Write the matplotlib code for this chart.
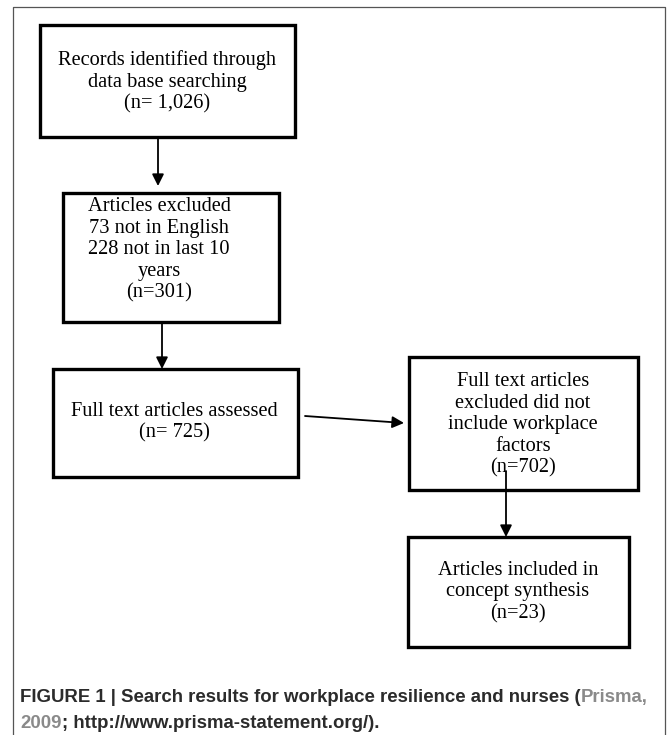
import matplotlib
matplotlib.use("Agg")
from matplotlib import pyplot as plt
from matplotlib.patches import Rectangle

# flowchart content (PRISMA style)
box_texts = [
    "Records identified through\ndata base searching\n(n= 1,026)",
    "Articles excluded\n73 not in English\n228 not in last 10\nyears\n(n=301)",
    "Full text articles assessed\n(n= 725)",
    "Full text articles\nexcluded did not\ninclude workplace\nfactors\n(n=702)",
    "Articles included in\nconcept synthesis\n(n=23)",
]
caption_1 = "FIGURE 1 | Search results for workplace resilience and nurses ("
caption_cite_1 = "Prisma,"
caption_cite_2 = "2009"
caption_2 = "; http://www.prisma-statement.org/)."

# layout in pixels: (left, top, right, bottom), text center
boxes = [(40, 25, 295, 137), (63, 193, 279, 322), (53, 369, 298, 477),
         (409, 357, 638, 490), (408, 537, 629, 647)]
text_xy = [(167, 82), (159, 250), (174, 422), (523, 425), (518, 592)]
arrows = [((158, 137), (158, 186)), ((162, 322), (162, 369)),
          ((305, 416), (404, 423)), ((506, 471), (506, 537))]

fig = plt.figure(figsize=(6.67, 7.35), dpi=100)
ax = fig.add_axes([0, 0, 1, 1])
ax.set_xlim(0, 667)
ax.set_ylim(735, 0)
ax.axis("off")

# outer frame
ax.plot([12.5, 12.5, 664.5, 664.5], [735, 6.5, 6.5, 735], color="#555555", lw=0.9)

for (l, t, r, b), (tx, ty), txt in zip(boxes, text_xy, box_texts):
    ax.add_patch(Rectangle((l, t), r - l, b - t, fill=False, ec="black", lw=2.4,
                           joinstyle="miter"))
    ax.text(tx, ty, txt, ha="center", va="center", fontsize=14.7,
            family="Liberation Serif", linespacing=1.18)

for start, end in arrows:
    ax.annotate("", xy=end, xytext=start,
                arrowprops=dict(arrowstyle="-|>,head_length=0.7,head_width=0.35",
                                color="black", lw=1.3, shrinkA=0, shrinkB=0))

dark, grey = "#2b2b2b", "#8a8a8a"
cap = dict(fontsize=13.4, family="Liberation Sans", weight="bold")
t1 = ax.text(20, 702, caption_1, color=dark, va="baseline", **cap)
ax.annotate(caption_cite_1, xy=(1, 0), xycoords=t1, color=grey, va="bottom", **cap)
t2 = ax.text(20, 728, caption_cite_2, color=grey, va="baseline", **cap)
ax.annotate(caption_2, xy=(1, 0), xycoords=t2, color=dark, va="bottom", **cap)

fig.savefig("out.png", dpi=100)
